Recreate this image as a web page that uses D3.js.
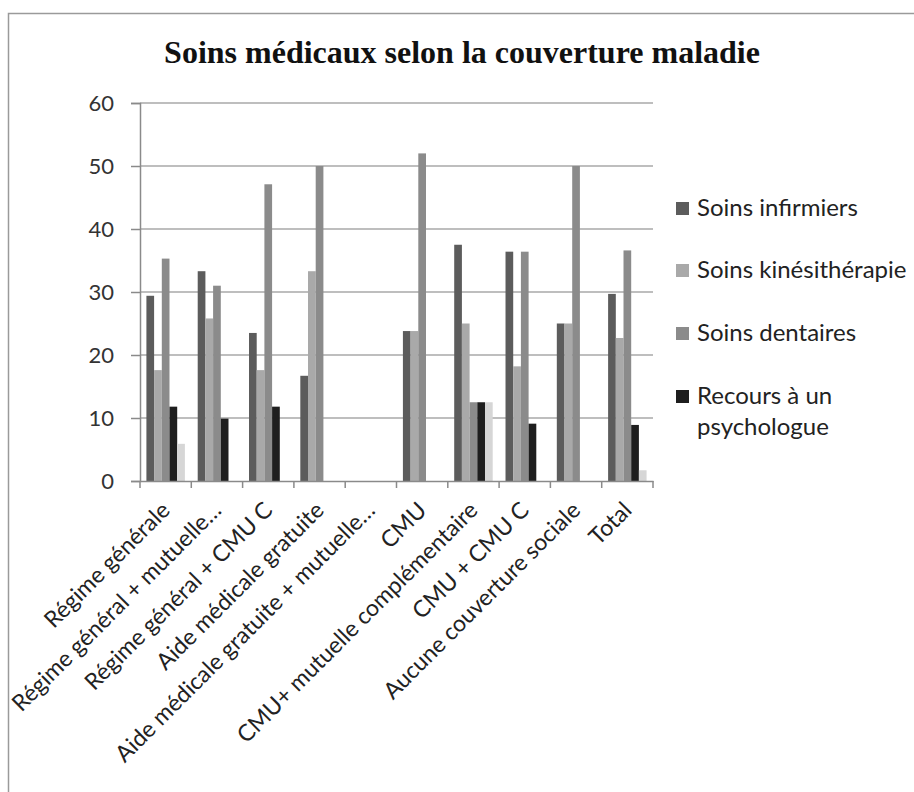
<!DOCTYPE html>
<html>
<head>
<meta charset="utf-8">
<script src="https://cdn.jsdelivr.net/npm/d3@7/dist/d3.min.js"></script>
<style>
  html, body { margin: 0; padding: 0; background: #fff; }
  svg { display: block; }
</style>
</head>
<body>
<svg id="chart" width="914" height="792"></svg>
<script>
// Categories of health coverage
const categories = [
  "Régime générale",
  "Régime général + mutuelle…",
  "Régime général + CMU C",
  "Aide médicale gratuite",
  "Aide médicale gratuite + mutuelle…",
  "CMU",
  "CMU+ mutuelle complémentaire",
  "CMU + CMU C",
  "Aucune couverture sociale",
  "Total"
];

// Percentages per series
const soinsInfirmiers    = [29.4, 33.3, 23.5, 16.7, 0, 23.8, 37.5, 36.4, 25.0, 29.7];
const soinsKine          = [17.6, 25.8, 17.6, 33.3, 0, 23.8, 25.0, 18.2, 25.0, 22.7];
const soinsDentaires     = [35.3, 31.0, 47.1, 50.0, 0, 52.0, 12.5, 36.4, 50.0, 36.6];
const recoursPsychologue = [11.8,  9.9, 11.8,  0.0, 0,  0.0, 12.5,  9.1,  0.0,  8.9];
// Fifth series (no legend entry)
const cinquiemeSerie     = [ 5.9,  0.0,  0.0,  0.0, 0,  0.0, 12.5,  0.0,  0.0,  1.7];

const yTicks = [0, 10, 20, 30, 40, 50, 60];
const legendLabels = ["Soins infirmiers", "Soins kinésithérapie", "Soins dentaires", "Recours à un psychologue"];

const series = [soinsInfirmiers, soinsKine, soinsDentaires, recoursPsychologue, cinquiemeSerie];
const colors = ["#5c5c5c", "#a9a9a9", "#8b8b8b", "#1e1e1e", "#d6d6d6"];

const sansFont = "Lato, 'Open Sans', sans-serif";
const svg = d3.select("#chart");

// outer frame
svg.append("rect")
  .attr("x", 8.5).attr("y", 13.5)
  .attr("width", 940).attr("height", 820)
  .attr("fill", "none").attr("stroke", "#9a9a9a").attr("stroke-width", 1.5);

// title
svg.append("text")
  .attr("x", 462).attr("y", 63)
  .attr("text-anchor", "middle")
  .attr("font-family", "'Liberation Serif', 'Times New Roman', serif")
  .attr("font-weight", "bold")
  .attr("font-size", 32)
  .attr("fill", "#111")
  .text("Soins médicaux selon la couverture maladie");

const plotLeft = 140, plotRight = 653, plotTop = 103, plotBottom = 481;

const x = d3.scaleBand().domain(categories).range([plotLeft, plotRight]).paddingInner(0).paddingOuter(0);
const y = d3.scaleLinear().domain([0, 60]).range([plotBottom, plotTop]);
// bars fill 75% of each category band
const xInner = d3.scaleBand().domain(d3.range(series.length))
  .range([0, x.bandwidth()]).paddingInner(0).paddingOuter(0.833);

// gridlines
svg.append("g").selectAll("line").data(yTicks.filter(d => d > 0)).join("line")
  .attr("x1", plotLeft).attr("x2", plotRight)
  .attr("y1", d => y(d)).attr("y2", d => y(d))
  .attr("stroke", "#a8a8a8").attr("stroke-width", 1.5);

// y axis
const yAxis = svg.append("g").attr("transform", `translate(${plotLeft},0)`)
  .call(d3.axisLeft(y).tickValues(yTicks).tickSize(9).tickPadding(17).tickFormat(d3.format("d")));
yAxis.select(".domain").attr("stroke", "#8a8a8a").attr("stroke-width", 1.5);
yAxis.selectAll(".tick line").attr("stroke", "#8a8a8a").attr("stroke-width", 1.5);
yAxis.selectAll("text")
  .attr("font-family", sansFont)
  .attr("font-size", 22)
  .attr("fill", "#333");

// bars
const groups = svg.append("g").selectAll("g").data(categories).join("g")
  .attr("transform", d => `translate(${x(d)},0)`);
groups.selectAll("rect")
  .data((c, i) => series.map((s, k) => ({ k, v: s[i] })))
  .join("rect")
  .attr("x", d => xInner(d.k))
  .attr("width", xInner.bandwidth())
  .attr("y", d => y(d.v))
  .attr("height", d => y(0) - y(d.v))
  .attr("fill", d => colors[d.k]);

// x axis
const xAxis = svg.append("g").attr("transform", `translate(0,${plotBottom})`)
  .call(d3.axisBottom(x).tickSize(0).tickFormat(""));
xAxis.select(".domain").attr("stroke", "#8a8a8a").attr("stroke-width", 1.5);
// tick marks at category boundaries
svg.append("g").selectAll("line")
  .data(categories.map(c => x(c)).concat([plotRight]))
  .join("line")
  .attr("x1", d => d).attr("x2", d => d)
  .attr("y1", plotBottom).attr("y2", plotBottom + 7)
  .attr("stroke", "#8a8a8a").attr("stroke-width", 1.5);

// rotated category labels
svg.append("g").selectAll("text").data(categories).join("text")
  .attr("transform", d => `translate(${x(d) + x.bandwidth() / 2},${plotBottom + 25}) rotate(-45)`)
  .attr("text-anchor", "end")
  .attr("dy", "0.35em")
  .attr("font-family", sansFont)
  .attr("font-size", 23)
  .attr("fill", "#222")
  .text(d => d);

// legend
const legend = svg.append("g").attr("transform", "translate(676,0)");
const legendY = [216, 278, 341, 404];
legendLabels.forEach((lab, i) => {
  legend.append("rect")
    .attr("x", 0).attr("y", legendY[i] - 14)
    .attr("width", 13).attr("height", 13)
    .attr("fill", colors[i]);
  const words = lab === "Recours à un psychologue" ? ["Recours à un", "psychologue"] : [lab];
  const t = legend.append("text")
    .attr("x", 21).attr("y", legendY[i])
    .attr("font-family", sansFont)
    .attr("font-size", 24)
    .attr("fill", "#222");
  words.forEach((w, j) => {
    t.append("tspan").attr("x", 21).attr("dy", j === 0 ? 0 : 31).text(w);
  });
});
</script>
</body>
</html>
